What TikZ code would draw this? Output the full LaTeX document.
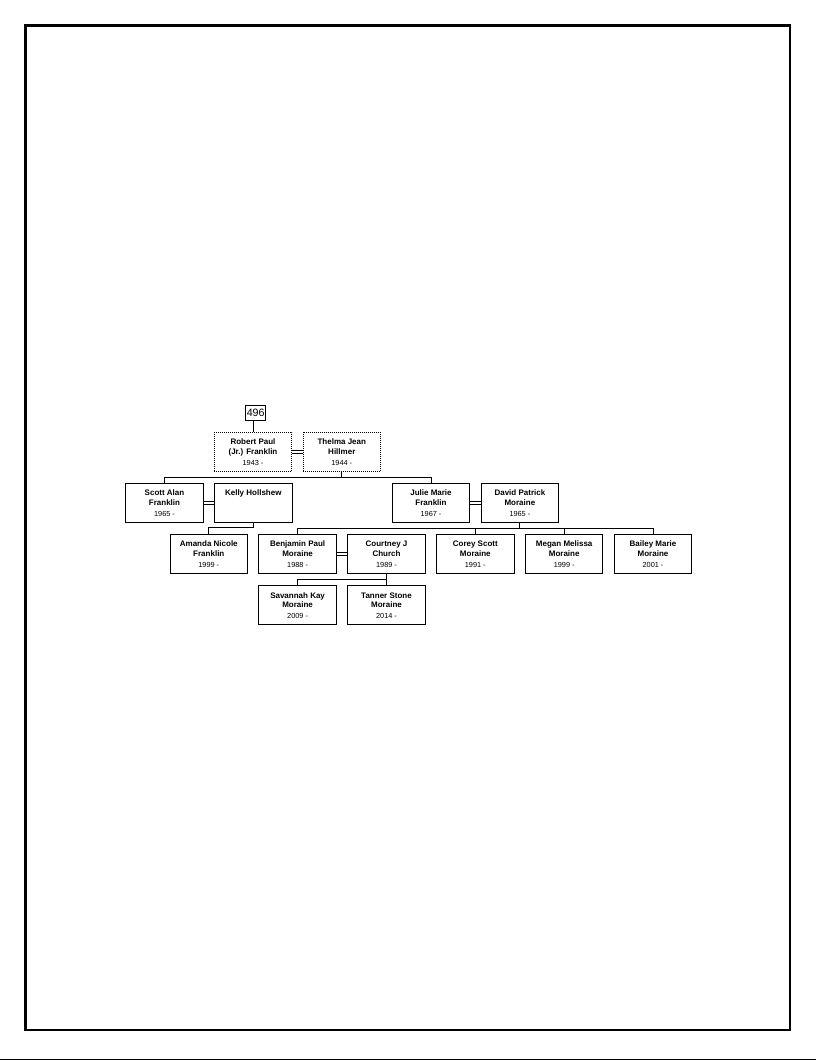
\documentclass[tikz,border=0pt]{standalone}
\usepackage{fontspec}
\setmainfont{Liberation Sans}
\newcommand{\birthyr}[1]{{\fontsize{5.5}{7}\selectfont\mdseries #1}}

\begin{document}
\begin{tikzpicture}
[x=0.75pt, y=-0.75pt,
 every node/.style={inner sep=0pt},
 person/.style={draw, line width=0.75pt, minimum width=58.1pt, minimum height=29.5pt},
 dotperson/.style={person, dash pattern=on 0.75pt off 0.75pt},
 who/.style={anchor=north, yshift=-5.3pt, align=center, font=\fontsize{6}{7}\selectfont\bfseries},
 conn/.style={line width=0.75pt}]
\useasboundingbox (0,0) rectangle (816,1061);
\draw [line width=2pt] (25.3,25.3) rectangle (790,1030);
\draw [line width=0.75pt] (0,1059.8) -- (816,1059.8);
% generation 1
\node (box496) [draw, line width=0.75pt, minimum width=15pt, minimum height=10.7pt, font=\fontsize{8}{9}\selectfont] at (255.7,413) {496};
\node (robert) [dotperson, label={[who]north:{Robert Paul\\(Jr.) Franklin\\[1.25pt]\birthyr{1943 -}}}] at (253,452) {};
\node (thelma) [dotperson, label={[who]north:{Thelma Jean\\Hillmer\\[1.25pt]\birthyr{1944 -}}}] at (341.8,452) {};
% generation 2
\node (scott) [person, label={[who]north:{Scott Alan\\Franklin\\[1.25pt]\birthyr{1965 -}}}] at (164.5,502.9) {};
\node (kelly) [person, label={[who]north:{Kelly Hollshew}}] at (253.3,502.9) {};
\node (julie) [person, label={[who]north:{Julie Marie\\Franklin\\[1.25pt]\birthyr{1967 -}}}] at (431,502.9) {};
\node (david) [person, label={[who]north:{David Patrick\\Moraine\\[1.25pt]\birthyr{1965 -}}}] at (519.9,502.9) {};
% generation 3
\node (amanda) [person, label={[who]north:{Amanda Nicole\\Franklin\\[1.25pt]\birthyr{1999 -}}}] at (208.8,554) {};
\node (benjamin) [person, label={[who]north:{Benjamin Paul\\Moraine\\[1.25pt]\birthyr{1988 -}}}] at (297.6,554) {};
\node (courtney) [person, label={[who]north:{Courtney J\\Church\\[1.25pt]\birthyr{1989 -}}}] at (386.5,554) {};
\node (corey) [person, label={[who]north:{Corey Scott\\Moraine\\[1.25pt]\birthyr{1991 -}}}] at (475.3,554) {};
\node (megan) [person, label={[who]north:{Megan Melissa\\Moraine\\[1.25pt]\birthyr{1999 -}}}] at (564.2,554) {};
\node (bailey) [person, label={[who]north:{Bailey Marie\\Moraine\\[1.25pt]\birthyr{2001 -}}}] at (653,554) {};
% generation 4
\node (savannah) [person, label={[who]north:{Savannah Kay\\Moraine\\[1.25pt]\birthyr{2009 -}}}] at (297.6,605.3) {};
\node (tanner) [person, label={[who]north:{Tanner Stone\\Moraine\\[1.25pt]\birthyr{2014 -}}}] at (386.5,605.3) {};
% couples
\foreach \a/\b in {robert/thelma, scott/kelly, julie/david, benjamin/courtney}
  \foreach \s in {1.25,-1.25}
    \draw [conn] ([yshift=\s pt]\a.east) -- ([yshift=\s pt]\b.west);
% descent lines
\draw [conn] (robert.north) -- (robert.north |- box496.south);
\coordinate (rtkids) at (341.8,477.3);
\draw [conn] (thelma.south) -- (rtkids);
\draw [conn] (scott.north) |- (rtkids) -| (julie.north);
\coordinate (skkids) at (253.3,527.8);
\draw [conn] (kelly.south) -- (skkids) -| (amanda.north);
\coordinate (jdkids) at (519.9,528.3);
\draw [conn] (david.south) -- (jdkids);
\draw [conn] (benjamin.north) |- (jdkids) -| (bailey.north);
\foreach \k in {corey, megan}
  \draw [conn] (\k.north) -- (\k.north |- jdkids);
\coordinate (cbkids) at (386.5,579.2);
\draw [conn] (courtney.south) -- (tanner.north);
\draw [conn] (savannah.north) |- (cbkids);
\end{tikzpicture}
\end{document}
